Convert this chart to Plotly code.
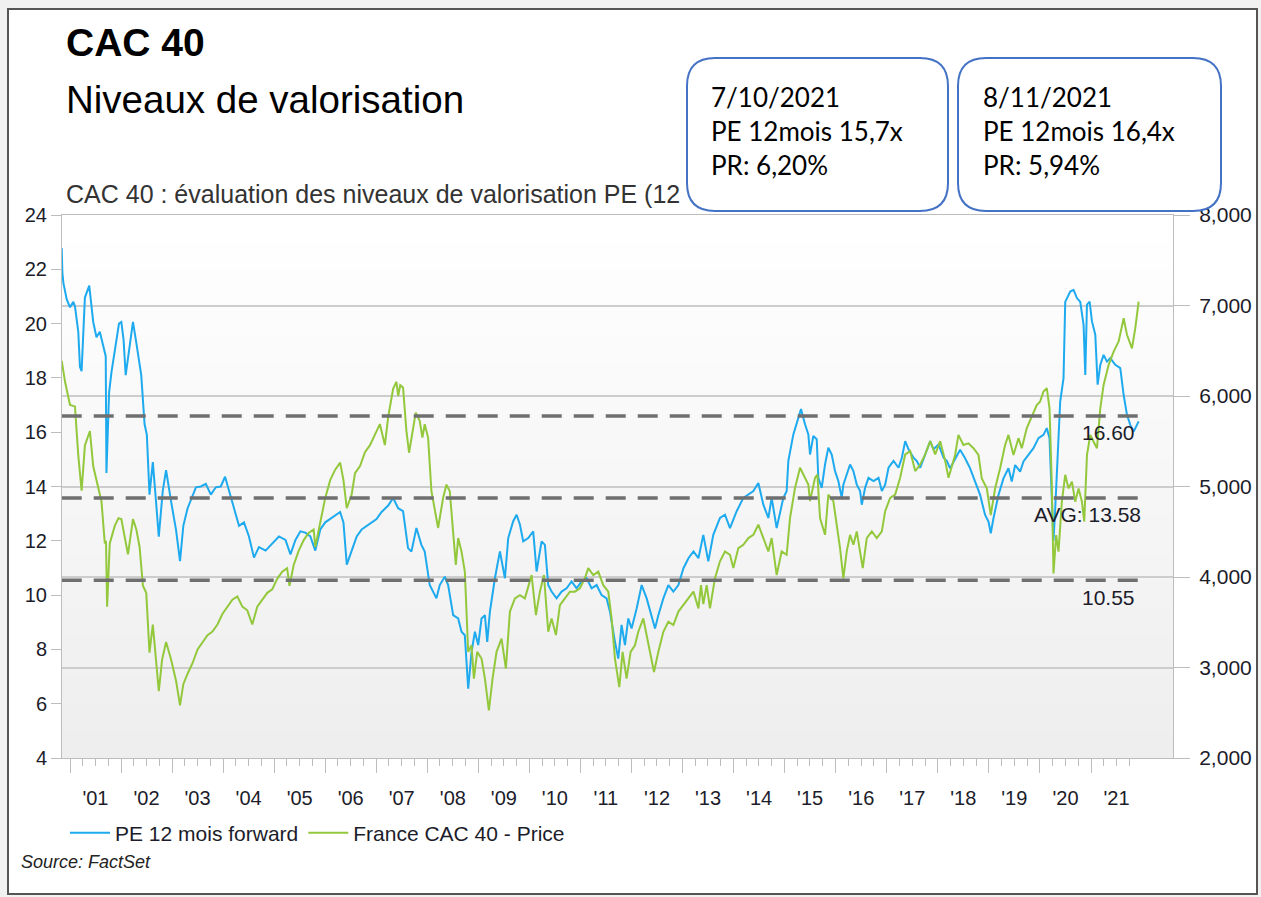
import plotly.graph_objects as go
from datetime import datetime

# ---------------- data ----------------
# dates given as decimal years
pe_dates = [
    2000.838, 2000.850, 2000.870, 2000.935, 2001.000, 2001.065, 2001.097, 2001.162, 2001.195, 2001.227,
    2001.292, 2001.377, 2001.455, 2001.519, 2001.584, 2001.649, 2001.700, 2001.714, 2001.766, 2001.812,
    2001.909, 2001.960, 2002.006, 2002.050, 2002.091, 2002.156, 2002.234, 2002.299, 2002.364, 2002.396,
    2002.461, 2002.506, 2002.558, 2002.623, 2002.675, 2002.740, 2002.818, 2002.883, 2002.981, 2003.078,
    2003.156, 2003.221, 2003.305, 2003.403, 2003.468, 2003.565, 2003.662, 2003.760, 2003.857, 2003.955,
    2004.039, 2004.117, 2004.214, 2004.312, 2004.409, 2004.506, 2004.604, 2004.701, 2004.831, 2004.961,
    2005.091, 2005.221, 2005.318, 2005.416, 2005.513, 2005.610, 2005.708, 2005.805, 2005.903, 2006.000,
    2006.097, 2006.195, 2006.292, 2006.357, 2006.422, 2006.519, 2006.617, 2006.714, 2006.812, 2006.909,
    2007.006, 2007.104, 2007.234, 2007.331, 2007.429, 2007.525, 2007.623, 2007.689, 2007.787, 2007.885,
    2007.950, 2008.048, 2008.114, 2008.179, 2008.244, 2008.342, 2008.408, 2008.506, 2008.604, 2008.669,
    2008.734, 2008.800, 2008.865, 2008.931, 2008.996, 2009.061, 2009.127, 2009.172, 2009.225, 2009.323,
    2009.421, 2009.519, 2009.584, 2009.682, 2009.748, 2009.813, 2009.878, 2009.976, 2010.074, 2010.140,
    2010.238, 2010.303, 2010.368, 2010.434, 2010.532, 2010.630, 2010.728, 2010.826, 2010.924, 2011.022,
    2011.120, 2011.218, 2011.316, 2011.414, 2011.512, 2011.578, 2011.676, 2011.741, 2011.806, 2011.872,
    2011.937, 2012.002, 2012.101, 2012.199, 2012.297, 2012.395, 2012.460, 2012.525, 2012.623, 2012.721,
    2012.819, 2012.917, 2013.016, 2013.114, 2013.212, 2013.310, 2013.405, 2013.503, 2013.601, 2013.732,
    2013.830, 2013.928, 2014.059, 2014.190, 2014.288, 2014.386, 2014.484, 2014.582, 2014.680, 2014.745,
    2014.843, 2014.909, 2014.974, 2015.039, 2015.072, 2015.170, 2015.268, 2015.320, 2015.399, 2015.464,
    2015.497, 2015.562, 2015.628, 2015.660, 2015.726, 2015.791, 2015.856, 2015.922, 2015.987, 2016.052,
    2016.118, 2016.150, 2016.216, 2016.281, 2016.346, 2016.412, 2016.477, 2016.510, 2016.575, 2016.641,
    2016.739, 2016.837, 2016.902, 2016.967, 2017.033, 2017.131, 2017.229, 2017.294, 2017.360, 2017.425,
    2017.523, 2017.588, 2017.654, 2017.752, 2017.850, 2017.915, 2018.013, 2018.111, 2018.177, 2018.240,
    2018.371, 2018.436, 2018.534, 2018.632, 2018.730, 2018.828, 2018.926, 2018.992, 2019.037, 2019.090,
    2019.188, 2019.286, 2019.384, 2019.449, 2019.515, 2019.613, 2019.678, 2019.776, 2019.874, 2019.972,
    2020.070, 2020.135, 2020.188, 2020.233, 2020.266, 2020.300, 2020.332, 2020.397, 2020.462, 2020.495,
    2020.593, 2020.658, 2020.724, 2020.789, 2020.854, 2020.887, 2020.920, 2020.972, 2021.018, 2021.083,
    2021.129, 2021.181, 2021.246, 2021.312, 2021.377, 2021.475, 2021.573, 2021.639, 2021.704, 2021.769,
    2021.835, 2021.900, 2021.933,
]
pe_values = [
    22.78, 21.9, 21.5, 20.9, 20.6, 20.8, 20.64, 19.7, 18.4, 18.25,
    20.96, 21.4, 20.06, 19.5, 19.7, 19.15, 18.8, 14.5, 17.47, 18.2,
    19.4, 20.0, 20.06, 19.4, 18.1, 19.0, 20.06, 19.3, 18.6, 18.1,
    16.3, 15.9, 13.7, 14.9, 13.7, 12.15, 13.84, 14.6, 13.45, 12.4,
    11.25, 12.55, 13.2, 13.7, 13.97, 14.0, 14.1, 13.7, 13.97, 14.0,
    14.36, 13.84, 13.2, 12.55, 12.68, 12.16, 11.38, 11.77, 11.64, 11.9,
    12.16, 12.03, 11.5, 12.03, 12.35, 12.3, 12.16, 11.64, 12.42, 12.68,
    12.8, 12.93, 13.06, 12.68, 11.12, 11.64, 12.16, 12.42, 12.55, 12.68,
    12.8, 13.06, 13.3, 13.58, 13.2, 13.09, 11.73, 11.6, 12.47, 11.85,
    11.6, 10.37, 10.13, 9.88, 10.37, 10.68, 10.37, 9.26, 9.14, 8.65,
    8.52, 6.55, 7.9, 8.65, 8.16, 9.14, 9.26, 8.28, 9.39, 10.62,
    11.61, 10.62, 12.1, 12.72, 12.96, 12.6, 11.98, 12.1, 12.35, 10.87,
    11.98, 11.85, 10.37, 10.13, 9.88, 10.13, 10.25, 10.5, 10.25, 10.5,
    10.62, 10.25, 10.37, 10.0, 9.88, 9.39, 8.28, 7.66, 8.9, 8.16,
    9.14, 8.77, 9.51, 10.37, 9.88, 9.26, 8.77, 9.26, 9.88, 10.37,
    10.13, 10.37, 10.99, 11.36, 11.61, 11.36, 12.22, 11.24, 12.22, 12.84,
    12.96, 12.47, 13.09, 13.58, 13.7, 13.83, 14.13, 13.33, 12.84, 13.58,
    12.47, 13.09, 13.58, 13.83, 14.94, 15.92, 16.54, 16.85, 16.29, 15.92,
    15.18, 15.86, 15.74, 14.32, 13.95, 14.81, 15.43, 15.18, 14.57, 14.2,
    13.58, 14.07, 14.44, 14.81, 14.57, 14.07, 13.83, 13.33, 13.95, 14.32,
    14.2, 14.32, 13.83, 14.07, 14.69, 14.94, 14.69, 15.06, 15.67, 15.37,
    15.06, 14.94, 14.69, 15.18, 15.67, 15.37, 15.55, 15.06, 14.94, 14.67,
    15.16, 15.35, 15.04, 14.67, 14.18, 13.69, 12.95, 12.71, 12.28, 12.83,
    13.69, 14.3, 14.67, 14.18, 14.79, 14.55, 14.92, 15.16, 15.41, 15.78,
    15.9, 16.15, 15.78, 13.58, 12.0, 13.2, 14.6, 17.13, 17.99, 20.8,
    21.18, 21.24, 20.94, 20.8, 19.95, 18.11, 20.7, 20.81, 20.08, 19.59,
    17.75, 18.48, 18.85, 18.6, 18.73, 18.48, 18.36, 17.37, 16.64, 16.27,
    16.02, 16.27, 16.4,
]

cac_dates = [
    2000.838, 2000.903, 2001.000, 2001.097, 2001.162, 2001.227, 2001.292, 2001.390, 2001.455, 2001.552,
    2001.617, 2001.682, 2001.705, 2001.727, 2001.779, 2001.877, 2001.950, 2002.006, 2002.071, 2002.136,
    2002.234, 2002.299, 2002.364, 2002.429, 2002.494, 2002.558, 2002.623, 2002.688, 2002.740, 2002.805,
    2002.883, 2002.981, 2003.078, 2003.156, 2003.221, 2003.305, 2003.403, 2003.500, 2003.597, 2003.695,
    2003.792, 2003.890, 2003.987, 2004.084, 2004.182, 2004.279, 2004.377, 2004.474, 2004.571, 2004.669,
    2004.766, 2004.864, 2004.961, 2005.058, 2005.156, 2005.253, 2005.299, 2005.383, 2005.481, 2005.578,
    2005.675, 2005.773, 2005.805, 2005.903, 2006.000, 2006.097, 2006.195, 2006.292, 2006.357, 2006.422,
    2006.519, 2006.584, 2006.682, 2006.779, 2006.877, 2006.974, 2007.071, 2007.169, 2007.234, 2007.331,
    2007.396, 2007.430, 2007.470, 2007.525, 2007.591, 2007.643, 2007.721, 2007.774, 2007.852, 2007.904,
    2007.950, 2008.016, 2008.081, 2008.146, 2008.212, 2008.310, 2008.375, 2008.440, 2008.506, 2008.558,
    2008.604, 2008.669, 2008.734, 2008.800, 2008.865, 2008.911, 2008.976, 2009.061, 2009.127, 2009.205,
    2009.277, 2009.355, 2009.453, 2009.538, 2009.617, 2009.715, 2009.813, 2009.911, 2010.042, 2010.127,
    2010.205, 2010.284, 2010.368, 2010.434, 2010.519, 2010.597, 2010.695, 2010.793, 2010.891, 2010.989,
    2011.087, 2011.153, 2011.251, 2011.349, 2011.447, 2011.545, 2011.610, 2011.676, 2011.761, 2011.826,
    2011.904, 2011.983, 2012.068, 2012.133, 2012.231, 2012.329, 2012.440, 2012.525, 2012.623, 2012.721,
    2012.819, 2012.917, 2013.016, 2013.114, 2013.212, 2013.310, 2013.360, 2013.405, 2013.471, 2013.536,
    2013.634, 2013.732, 2013.830, 2013.928, 2013.994, 2014.092, 2014.190, 2014.288, 2014.386, 2014.484,
    2014.582, 2014.680, 2014.745, 2014.843, 2014.941, 2015.039, 2015.105, 2015.203, 2015.301, 2015.399,
    2015.464, 2015.497, 2015.595, 2015.641, 2015.693, 2015.791, 2015.856, 2015.954, 2016.020, 2016.085,
    2016.150, 2016.216, 2016.281, 2016.346, 2016.412, 2016.477, 2016.529, 2016.608, 2016.706, 2016.804,
    2016.902, 2016.967, 2017.065, 2017.163, 2017.261, 2017.360, 2017.458, 2017.556, 2017.654, 2017.752,
    2017.850, 2017.948, 2018.046, 2018.144, 2018.209, 2018.338, 2018.403, 2018.501, 2018.599, 2018.698,
    2018.796, 2018.861, 2018.959, 2019.037, 2019.122, 2019.220, 2019.318, 2019.384, 2019.482, 2019.580,
    2019.645, 2019.743, 2019.874, 2019.939, 2020.005, 2020.070, 2020.135, 2020.188, 2020.233, 2020.266,
    2020.318, 2020.364, 2020.429, 2020.495, 2020.560, 2020.626, 2020.691, 2020.756, 2020.822, 2020.867,
    2020.920, 2020.985, 2021.050, 2021.116, 2021.181, 2021.246, 2021.345, 2021.443, 2021.541, 2021.639,
    2021.704, 2021.802, 2021.867, 2021.933,
]
cac_values = [
    6389, 6157, 5900, 5885, 5343, 4953, 5453, 5613, 5224, 4992,
    4835, 4370, 4400, 3672, 4370, 4565, 4650, 4640, 4448, 4250,
    4640, 4527, 4332, 3903, 3825, 3164, 3475, 3050, 2739, 3088,
    3281, 3088, 2854, 2582, 2816, 2931, 3050, 3200, 3281, 3358,
    3397, 3475, 3591, 3672, 3749, 3786, 3672, 3632, 3475, 3672,
    3749, 3825, 3864, 3980, 4058, 4097, 3903, 4135, 4291, 4408,
    4486, 4525, 4332, 4603, 4874, 5070, 5186, 5264, 5070, 4760,
    4914, 5147, 5225, 5380, 5457, 5574, 5690, 5457, 5768, 6079,
    6157, 6000, 6120, 6095, 5614, 5373, 5651, 5817, 5725, 5540,
    5688, 5540, 4948, 4726, 4542, 4875, 5021, 4948, 4504, 4134,
    4430, 4282, 4060, 3173, 3246, 2877, 3173, 3099, 2877, 2525,
    2877, 3173, 3320, 2987, 3618, 3764, 3800, 3764, 4022, 3578,
    3838, 4022, 3395, 3542, 3358, 3690, 3764, 3838, 3838, 3876,
    3987, 4098, 4022, 4060, 3910, 3838, 3542, 3099, 2784, 3173,
    2877, 3173, 3246, 3395, 3542, 3246, 2951, 3173, 3395, 3506,
    3469, 3618, 3690, 3764, 3838, 3653, 3910, 3700, 3910, 3653,
    3987, 4173, 4282, 4245, 4100, 4319, 4356, 4430, 4467, 4578,
    4430, 4282, 4430, 4022, 4282, 4245, 4652, 4985, 5207, 5096,
    5021, 4838, 5096, 5132, 4652, 4466, 4910, 4838, 4578, 4319,
    3986, 4282, 4466, 4356, 4504, 4282, 4098, 4430, 4504, 4430,
    4504, 4727, 4874, 4910, 5096, 5354, 5390, 5171, 5243, 5354,
    5501, 5354, 5501, 5282, 5096, 5348, 5570, 5459, 5477, 5423,
    5348, 5090, 4979, 4685, 4979, 5201, 5459, 5570, 5348, 5534,
    5423, 5645, 5828, 5900, 5939, 6050, 6086, 5864, 5018, 4040,
    4463, 4280, 4832, 5129, 4979, 5054, 4832, 4979, 4832, 4613,
    5348, 5570, 5495, 5423, 5864, 6122, 6344, 6491, 6602, 6860,
    6677, 6527, 6749, 7043,
]

pe_levels = [16.60, 13.58, 10.55]
pe_level_labels = ["16.60", "AVG: 13.58", "10.55"]

year_labels = ["'01", "'02", "'03", "'04", "'05", "'06", "'07", "'08", "'09", "'10", "'11",
               "'12", "'13", "'14", "'15", "'16", "'17", "'18", "'19", "'20", "'21"]
label_years = list(range(2001, 2022))

box_texts = ["7/10/2021<br>PE 12mois 15,7x<br>PR: 6,20%",
             "8/11/2021<br>PE 12mois 16,4x<br>PR: 5,94%"]


# ---------------- helpers ----------------
def to_date(v):
    y = int(v)
    a, b = datetime(y, 1, 1), datetime(y + 1, 1, 1)
    return a + (b - a) * (v - y)


W, H = 1261, 897
PL, PR, PT, PB = 62, 1173, 215, 758


def px(x):
    return (x - PL) / (PR - PL)


def py(y):
    return (PB - y) / (PB - PT)


def rounded_box(x0, y0, x1, y1, r):
    X, Y = px, py
    return (f"M {X(x0 + r)},{Y(y0)} L {X(x1 - r)},{Y(y0)} Q {X(x1)},{Y(y0)} {X(x1)},{Y(y0 + r)} "
            f"L {X(x1)},{Y(y1 - r)} Q {X(x1)},{Y(y1)} {X(x1 - r)},{Y(y1)} "
            f"L {X(x0 + r)},{Y(y1)} Q {X(x0)},{Y(y1)} {X(x0)},{Y(y1 - r)} "
            f"L {X(x0)},{Y(y0 + r)} Q {X(x0)},{Y(y0)} {X(x0 + r)},{Y(y0)} Z")


FONT = "Liberation Sans, Arial, sans-serif"
AXC = "#bdbdbd"
TXT = "#1c1c2a"

pe_x = [to_date(t) for t in pe_dates]
cac_x = [to_date(t) for t in cac_dates]

fig = go.Figure()

fig.add_trace(go.Scatter(x=pe_x, y=pe_values, mode="lines", name="PE 12 mois forward",
                         line=dict(color="#1eaaee", width=2), xaxis="x", yaxis="y", hoverinfo="skip"))
for lv in pe_levels:
    fig.add_trace(go.Scatter(x=[pe_x[0], pe_x[-1]], y=[lv, lv], mode="lines", showlegend=False,
                             line=dict(color="#6f6f6f", width=3.5, dash="20px,12px"),
                             xaxis="x2", yaxis="y", hoverinfo="skip"))
fig.add_trace(go.Scatter(x=cac_x, y=cac_values, mode="lines", name="France CAC 40 - Price",
                         line=dict(color="#93c83c", width=2), xaxis="x", yaxis="y2", hoverinfo="skip"))

# ---------------- shapes ----------------
shapes = []
shapes.append(dict(type="rect", xref="paper", yref="paper", layer="below",
                   x0=px(8), x1=px(1257), y0=py(894), y1=py(9),
                   fillcolor="white", line=dict(color="#555555", width=2)))
N = 40
for i in range(N):
    f = i / (N - 1)
    c = int(round(238 + (255 - 238) * f))
    shapes.append(dict(type="rect", xref="paper", yref="paper", layer="below",
                       x0=0, x1=1, y0=i / N, y1=(i + 1) / N + 0.002,
                       fillcolor=f"rgb({c},{c},{c})", line=dict(width=0)))
shapes.append(dict(type="path", xref="paper", yref="paper", layer="above",
                   path=rounded_box(687, 58, 948, 211, 28),
                   fillcolor="white", line=dict(color="#4472c4", width=2)))
shapes.append(dict(type="path", xref="paper", yref="paper", layer="above",
                   path=rounded_box(958, 58, 1221, 211, 28),
                   fillcolor="white", line=dict(color="#4472c4", width=2)))

# ---------------- annotations ----------------
ann = []
ann.append(dict(text="<b>CAC 40</b>", x=px(64), y=py(43), xref="paper", yref="paper",
                xanchor="left", yanchor="middle", showarrow=False,
                font=dict(family=FONT, size=39, color="black")))
ann.append(dict(text="Niveaux de valorisation", x=px(64), y=py(99), xref="paper", yref="paper",
                xanchor="left", yanchor="middle", showarrow=False,
                font=dict(family=FONT, size=38.5, color="black")))
ann.append(dict(text="CAC 40 : évaluation des niveaux de valorisation PE (12", x=px(64), y=py(194),
                xref="paper", yref="paper", xanchor="left", yanchor="middle", showarrow=False,
                font=dict(family=FONT, size=25, color="#333333")))
for txt, bx in zip(box_texts, [709, 981]):
    ann.append(dict(text=txt, x=px(bx), y=py(131), xref="paper", yref="paper",
                    xanchor="left", yanchor="middle", align="left", showarrow=False,
                    font=dict(family="Lato, Open Sans, sans-serif", size=26, color="black")))
for lv, lab, xr in zip(pe_levels, pe_level_labels, [1137, 1143, 1137]):
    ann.append(dict(text=lab, x=px(xr), y=lv, xref="paper", yref="y", yshift=-17,
                    xanchor="right", yanchor="middle", showarrow=False,
                    font=dict(family=FONT, size=21, color=TXT)))
ann.append(dict(text="<i>Source: FactSet</i>", x=px(19), y=py(862), xref="paper", yref="paper",
                xanchor="left", yanchor="middle", showarrow=False,
                font=dict(family=FONT, size=18, color="#222222")))

year_ticks = [datetime(y, 1, 1) for y in range(2001, 2022)]
quarter_ticks = [datetime(y, m, 1) for y in range(2001, 2022) for m in (4, 7, 10)]
label_vals = [datetime(y, 7, 2) for y in label_years]
x_range = [to_date(2000.8433), to_date(2022.6063)]

fig.update_layout(
    width=W, height=H,
    margin=dict(l=PL, r=W - PR, t=PT, b=H - PB, autoexpand=False),
    paper_bgcolor="#f1f1f1", plot_bgcolor="white",
    font=dict(family=FONT, size=20, color=TXT),
    showlegend=True,
    legend=dict(orientation="h", x=px(65), y=py(833), xanchor="left", yanchor="middle",
                bgcolor="rgba(0,0,0,0)", font=dict(family=FONT, size=21, color=TXT),
                itemwidth=40, tracegroupgap=0),
    xaxis=dict(type="date", range=x_range, tickmode="array", tickvals=year_ticks,
               showticklabels=False, ticks="outside", ticklen=14, tickcolor=AXC, tickwidth=1,
               showline=True, linecolor=AXC, linewidth=1, mirror=True, showgrid=False, zeroline=False,
               minor=dict(tickmode="array", tickvals=quarter_ticks, ticks="outside", ticklen=7,
                          tickcolor=AXC, tickwidth=1, showgrid=False)),
    xaxis2=dict(type="date", range=x_range, overlaying="x", anchor="y", side="bottom",
                tickmode="array", tickvals=label_vals, ticktext=year_labels,
                ticks="outside", ticklen=22, tickcolor="rgba(0,0,0,0)",
                showline=False, showgrid=False, zeroline=False,
                tickfont=dict(family=FONT, size=20, color=TXT)),
    yaxis=dict(range=[4, 24], tickmode="linear", tick0=4, dtick=2, ticks="outside", ticklen=10,
               tickcolor=AXC, showline=True, linecolor=AXC, linewidth=1, showgrid=False,
               zeroline=False, tickfont=dict(family=FONT, size=20, color=TXT)),
    yaxis2=dict(range=[2000, 8000], overlaying="y", side="right", anchor="x", tickmode="linear",
                tick0=2000, dtick=1000, tickformat=",d", ticks="outside", ticklen=16, tickcolor=AXC,
                ticklabelstandoff=5,
                showline=True, linecolor=AXC, linewidth=1, showgrid=True, gridcolor="#cdcdcd",
                gridwidth=1.5, zeroline=False, tickfont=dict(family=FONT, size=21, color=TXT)),
    shapes=shapes,
    annotations=ann,
)

fig.write_html("out.html",
               config={"displayModeBar": False},
               post_script="document.body.style.margin='0px';"
                           "document.body.style.overflow='hidden';"
                           "document.body.style.background='#f1f1f1';")
